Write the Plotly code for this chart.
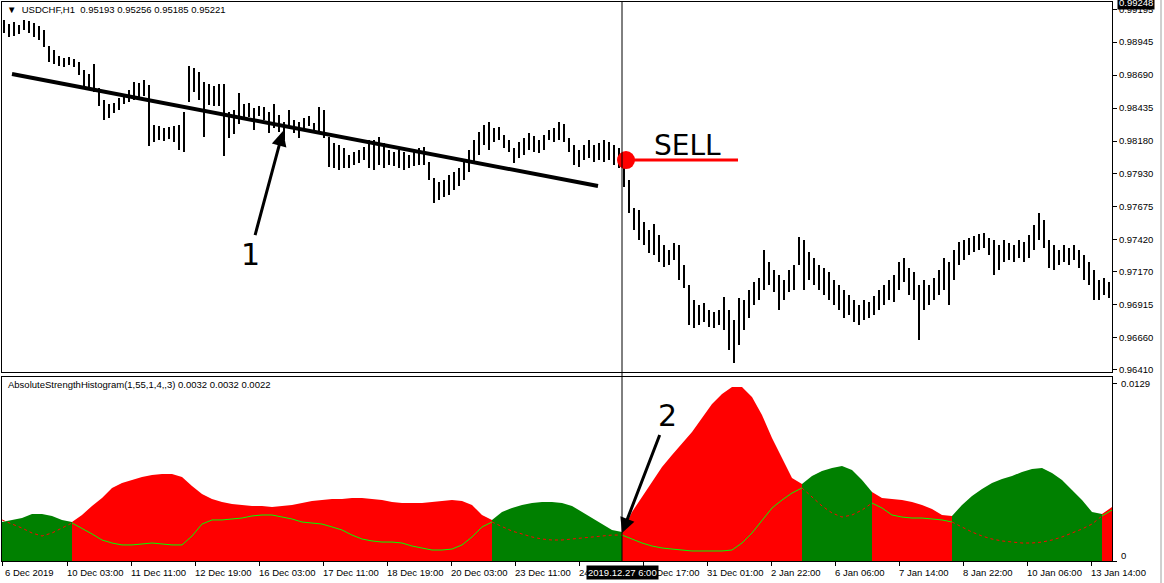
import numpy as np
import plotly.graph_objects as go

# ---------------- price data (aggregated bars) ----------------
highs = [
    0.99115, 0.99084, 0.99100, 0.99077, 0.99115, 0.99108, 0.99092, 0.99069, 0.99038, 0.98914,
    0.98883, 0.98837, 0.98822, 0.98829, 0.98814, 0.98791, 0.98729, 0.98698, 0.98775, 0.98590,
    0.98497, 0.98466, 0.98474, 0.98512, 0.98543, 0.98574, 0.98636, 0.98628, 0.98652, 0.98613,
    0.98304, 0.98296, 0.98281, 0.98288, 0.98296, 0.98304, 0.98404, 0.98760, 0.98744, 0.98713,
    0.98636, 0.98621, 0.98605, 0.98621, 0.98621, 0.98404, 0.98420, 0.98551, 0.98466, 0.98474,
    0.98435, 0.98451, 0.98443, 0.98404, 0.98466, 0.98381, 0.98327, 0.98420, 0.98342, 0.98327,
    0.98358, 0.98373, 0.98319, 0.98443, 0.98420, 0.98211, 0.98165, 0.98149, 0.98126, 0.98072,
    0.98095, 0.98110, 0.98134, 0.98188, 0.98188, 0.98211, 0.98165, 0.98110, 0.98095, 0.98110,
    0.98095, 0.98072, 0.98110, 0.98126, 0.98134, 0.98018, 0.97894, 0.97863, 0.97879, 0.97917,
    0.97940, 0.97971, 0.98033, 0.98110, 0.98188, 0.98250, 0.98304, 0.98327, 0.98281, 0.98288,
    0.98226, 0.98188, 0.98126, 0.98172, 0.98203, 0.98242, 0.98219, 0.98188, 0.98226, 0.98265,
    0.98281, 0.98327, 0.98311, 0.98203, 0.98149, 0.98110, 0.98149, 0.98188, 0.98149, 0.98165,
    0.98188, 0.98172, 0.98149, 0.98126, 0.98072, 0.97879, 0.97662, 0.97647, 0.97554, 0.97492,
    0.97538, 0.97453, 0.97376, 0.97337, 0.97392, 0.97376, 0.97222, 0.97067, 0.96951, 0.96912,
    0.96928, 0.96874, 0.96858, 0.96874, 0.96974, 0.96874, 0.96796, 0.96966, 0.96951, 0.97028,
    0.97090, 0.97121, 0.97337, 0.97245, 0.97183, 0.97144, 0.97106, 0.97183, 0.97222, 0.97438,
    0.97415, 0.97322, 0.97276, 0.97222, 0.97198, 0.97167, 0.97106, 0.97067, 0.97028, 0.96990,
    0.96951, 0.96912, 0.96951, 0.96936, 0.96982, 0.97028, 0.97067, 0.97106, 0.97144, 0.97245,
    0.97276, 0.97198, 0.97167, 0.97067, 0.97106, 0.97067, 0.97121, 0.97183, 0.97276, 0.97245,
    0.97337, 0.97399, 0.97415, 0.97430, 0.97446, 0.97461, 0.97469, 0.97430, 0.97415, 0.97376,
    0.97415, 0.97392, 0.97376, 0.97415, 0.97399, 0.97453, 0.97531, 0.97624, 0.97569, 0.97415,
    0.97376, 0.97337, 0.97376, 0.97353, 0.97376, 0.97337, 0.97299, 0.97245, 0.97183, 0.97106,
    0.97121, 0.97090,
]
lows = [
    0.99015, 0.98984, 0.98992, 0.99007, 0.99038, 0.99015, 0.98984, 0.98961, 0.98907, 0.98791,
    0.98775, 0.98760, 0.98752, 0.98768, 0.98752, 0.98690, 0.98605, 0.98574, 0.98559, 0.98451,
    0.98342, 0.98358, 0.98397, 0.98420, 0.98466, 0.98482, 0.98497, 0.98512, 0.98528, 0.98141,
    0.98172, 0.98188, 0.98180, 0.98196, 0.98172, 0.98110, 0.98095, 0.98482, 0.98559, 0.98497,
    0.98211, 0.98458, 0.98451, 0.98451, 0.98064, 0.98203, 0.98234, 0.98311, 0.98358, 0.98366,
    0.98265, 0.98373, 0.98342, 0.98242, 0.98281, 0.98250, 0.98188, 0.98281, 0.98242, 0.98203,
    0.98281, 0.98296, 0.98257, 0.98242, 0.98203, 0.97979, 0.97971, 0.97956, 0.97971, 0.97971,
    0.97995, 0.98010, 0.98033, 0.97971, 0.97956, 0.97995, 0.97971, 0.97995, 0.97987, 0.97971,
    0.97956, 0.97971, 0.97987, 0.97995, 0.97995, 0.97879, 0.97701, 0.97724, 0.97747, 0.97763,
    0.97801, 0.97832, 0.97879, 0.97940, 0.98018, 0.98072, 0.98149, 0.98110, 0.98172, 0.98188,
    0.98126, 0.98095, 0.98010, 0.98049, 0.98072, 0.98110, 0.98095, 0.98087, 0.98110, 0.98188,
    0.98172, 0.98188, 0.98172, 0.98095, 0.97995, 0.97979, 0.98033, 0.98049, 0.98018, 0.98033,
    0.98018, 0.98033, 0.97995, 0.97971, 0.97824, 0.97624, 0.97492, 0.97415, 0.97376, 0.97314,
    0.97299, 0.97245, 0.97206, 0.97222, 0.97260, 0.97106, 0.97044, 0.96758, 0.96735, 0.96758,
    0.96781, 0.96742, 0.96735, 0.96758, 0.96719, 0.96564, 0.96464, 0.96603, 0.96719, 0.96812,
    0.96912, 0.96951, 0.97028, 0.97067, 0.97013, 0.96874, 0.96951, 0.97013, 0.97028, 0.97222,
    0.97028, 0.97106, 0.97067, 0.97028, 0.96990, 0.96951, 0.96912, 0.96874, 0.96812, 0.96835,
    0.96781, 0.96758, 0.96796, 0.96812, 0.96835, 0.96874, 0.96912, 0.96951, 0.96936, 0.97028,
    0.97090, 0.96990, 0.96951, 0.96642, 0.96874, 0.96912, 0.96951, 0.96990, 0.97028, 0.96912,
    0.97106, 0.97222, 0.97260, 0.97299, 0.97322, 0.97337, 0.97353, 0.97299, 0.97144, 0.97183,
    0.97245, 0.97260, 0.97245, 0.97276, 0.97245, 0.97276, 0.97337, 0.97415, 0.97353, 0.97198,
    0.97183, 0.97222, 0.97245, 0.97222, 0.97260, 0.97198, 0.97106, 0.97067, 0.96951, 0.96951,
    0.96990, 0.96966,
]

# ---------------- Absolute Strength Histogram (sampled every 2 bars) ----------------
osc_hist = [
    0.00284, 0.00299, 0.00313, 0.00342, 0.00342, 0.00328, 0.00299, 0.00284, 0.00335, 0.00401,
    0.00459, 0.00532, 0.00568, 0.00590, 0.00612, 0.00626, 0.00634, 0.00634, 0.00612, 0.00546,
    0.00488, 0.00452, 0.00430, 0.00415, 0.00408, 0.00401, 0.00401, 0.00393, 0.00401, 0.00408,
    0.00422, 0.00437, 0.00444, 0.00452, 0.00452, 0.00459, 0.00459, 0.00452, 0.00444, 0.00430,
    0.00422, 0.00422, 0.00422, 0.00430, 0.00437, 0.00444, 0.00437, 0.00408, 0.00335, 0.00299,
    0.00357, 0.00386, 0.00408, 0.00422, 0.00430, 0.00430, 0.00422, 0.00401, 0.00357, 0.00313,
    0.00269, 0.00226, 0.00211, 0.00357, 0.00466, 0.00575, 0.00685, 0.00772, 0.00852, 0.00940,
    0.01041, 0.01143, 0.01216, 0.01267, 0.01267, 0.01194, 0.01063, 0.00896, 0.00750, 0.00604,
    0.00561, 0.00619, 0.00655, 0.00677, 0.00692, 0.00663, 0.00590, 0.00503, 0.00459, 0.00452,
    0.00444, 0.00430, 0.00408, 0.00379, 0.00335, 0.00328, 0.00408, 0.00473, 0.00524, 0.00568,
    0.00597, 0.00619, 0.00648, 0.00670, 0.00677, 0.00641, 0.00590, 0.00517, 0.00444, 0.00357,
    0.00342, 0.00393,
]
osc_signal = [
    0.00299, 0.00269, 0.00240, 0.00204, 0.00182, 0.00204, 0.00240, 0.00277, 0.00240, 0.00197,
    0.00153, 0.00131, 0.00117, 0.00117, 0.00124, 0.00131, 0.00124, 0.00117, 0.00117, 0.00182,
    0.00269, 0.00299, 0.00299, 0.00306, 0.00313, 0.00328, 0.00335, 0.00335, 0.00320, 0.00306,
    0.00284, 0.00277, 0.00269, 0.00248, 0.00226, 0.00189, 0.00160, 0.00146, 0.00138, 0.00138,
    0.00131, 0.00109, 0.00095, 0.00080, 0.00080, 0.00087, 0.00117, 0.00175, 0.00248, 0.00284,
    0.00248, 0.00218, 0.00197, 0.00175, 0.00160, 0.00153, 0.00153, 0.00160, 0.00168, 0.00175,
    0.00182, 0.00189, 0.00189, 0.00160, 0.00131, 0.00109, 0.00095, 0.00087, 0.00080, 0.00073,
    0.00073, 0.00073, 0.00073, 0.00080, 0.00131, 0.00204, 0.00299, 0.00386, 0.00444, 0.00495,
    0.00532, 0.00466, 0.00401, 0.00350, 0.00320, 0.00335, 0.00371, 0.00422, 0.00386, 0.00335,
    0.00320, 0.00313, 0.00313, 0.00306, 0.00299, 0.00284, 0.00248, 0.00211, 0.00182, 0.00160,
    0.00146, 0.00138, 0.00131, 0.00131, 0.00138, 0.00153, 0.00175, 0.00204, 0.00233, 0.00269,
    0.00328, 0.00371,
]
# colour runs of the histogram: G = bullish (green), R = bearish (red)
osc_runs = [("G", 7), ("R", 42), ("G", 13), ("R", 18), ("G", 7), ("R", 8), ("G", 15), ("R", 2)]

# ---------------- axis labels ----------------
price_ticks = [0.99195, 0.98945, 0.98690, 0.98435, 0.98180, 0.97930,
               0.97675, 0.97420, 0.97170, 0.96915, 0.96660, 0.96410]
time_labels = ["6 Dec 2019", "10 Dec 03:00", "11 Dec 11:00", "12 Dec 19:00", "16 Dec 03:00",
               "17 Dec 11:00", "18 Dec 19:00", "20 Dec 03:00", "23 Dec 11:00", "24 Dec 19:00",
               "30 Dec 17:00", "31 Dec 01:00", "2 Jan 22:00", "6 Jan 06:00", "7 Jan 14:00",
               "8 Jan 22:00", "10 Jan 06:00", "13 Jan 14:00"]
time_label_pos = [-0.5, 12.5, 25.3, 38.1, 50.9, 63.7, 76.5, 89.3, 102.1, 114.9,
                  127.7, 140.5, 153.3, 166.1, 178.9, 191.7, 204.5, 217.3]

# ---------------- annotations data ----------------
trend_start = (1.5, 0.98698)
trend_end = (118.7, 0.97832)
sell_idx, sell_price, sell_line_end = 124.3, 0.98033, 146.7
cursor_idx = 123.5
arrow1_tip = (55.7, 0.98257)
arrow2_tip = (123.5, 0.00204)
last_price = 0.99248

N = len(highs)
idx = np.arange(N)
hi = np.array(highs)
lo = np.array(lows)
osc_x = -0.5 + 2 * np.arange(len(osc_hist))

FONT = "Liberation Sans"
W, H = 1164, 583
L, R, T, B = 2, 52, 2, 22
PW, PH = W - L - R, H - T - B


def px(x):
    return (x - L) / PW


def py(y):
    return (H - B - y) / PH


fig = go.Figure()

# price bars
fig.add_trace(go.Bar(x=idx, y=hi - lo, base=lo, width=0.32,
                     marker=dict(color="black", line=dict(width=0)),
                     xaxis="x", yaxis="y", hoverinfo="skip"))

# histogram areas
start = 0
runs = []
for col, n in osc_runs:
    end = min(start + n, len(osc_hist) - 1)
    runs.append((col, start, end))
    start += n
for col, s, e in runs:
    c = "#008000" if col == "G" else "#ff0000"
    fig.add_trace(go.Scatter(x=osc_x[s:e + 1], y=osc_hist[s:e + 1], mode="lines",
                             fill="tozeroy", line=dict(width=0, color=c), fillcolor=c,
                             xaxis="x2", yaxis="y2", hoverinfo="skip"))
for col, s, e in runs:
    if col == "G":
        ln = dict(color="#ff0000", width=1, dash="dot")
    else:
        ln = dict(color="#00ff00", width=1)
    fig.add_trace(go.Scatter(x=osc_x[s:e + 1], y=osc_signal[s:e + 1], mode="lines",
                             line=ln, xaxis="x2", yaxis="y2", hoverinfo="skip"))

# sell dot
fig.add_trace(go.Scatter(x=[sell_idx], y=[sell_price], mode="markers",
                         marker=dict(size=18, color="#ff0000"), xaxis="x", yaxis="y",
                         hoverinfo="skip"))

top_dom = [(H - B - 372) / PH, 1]
bot_dom = [0, (H - B - 377) / PH]

axis_common = dict(showgrid=False, zeroline=False, showline=True, mirror=True,
                   linecolor="black", linewidth=1)

fig.update_layout(
    width=W, height=H, margin=dict(l=L, r=R, t=T, b=B, autoexpand=False),
    paper_bgcolor="white", plot_bgcolor="white", showlegend=False, bargap=0,
    font=dict(family=FONT, size=9.5, color="black"),
    xaxis=dict(domain=[0, 1], range=[-0.5, N - 0.5], anchor="y", showticklabels=False,
               ticks="", **axis_common),
    xaxis2=dict(domain=[0, 1], range=[-0.5, N - 0.5], anchor="y2", matches="x",
                showticklabels=False, ticks="outside", ticklen=4, tickcolor="black",
                tickvals=time_label_pos, **axis_common),
    yaxis=dict(domain=top_dom, range=[0.96394, 0.99255], side="right", anchor="x",
               tickvals=price_ticks, ticktext=[f"{v:.5f}" for v in price_ticks],
               ticks="outside", ticklen=4, tickcolor="black",
               tickfont=dict(family=FONT, size=9.5, color="black"), **axis_common),
    yaxis2=dict(domain=bot_dom, range=[0, 0.0134], side="right", anchor="x2",
                tickvals=[0.0129, 0], showticklabels=False, ticks="outside", ticklen=4,
                tickcolor="black", **axis_common),
)

shapes = [
    dict(type="line", xref="x", yref="y", x0=trend_start[0], y0=trend_start[1],
         x1=trend_end[0], y1=trend_end[1], line=dict(color="black", width=4)),
    dict(type="line", xref="x", yref="y", x0=sell_idx, y0=sell_price,
         x1=sell_line_end, y1=sell_price, line=dict(color="#ff0000", width=3)),
    dict(type="line", xref="x", yref="paper", x0=cursor_idx, x1=cursor_idx, y0=0, y1=1,
         line=dict(color="black", width=1)),
    dict(type="line", xref="paper", yref="paper", x0=px(1161), x1=px(1161), y0=py(583), y1=py(0),
         line=dict(color="#a0a0a0", width=1)),
]
fig.update_layout(shapes=shapes)

ann = []
ann.append(dict(xref="paper", yref="paper", x=px(5), y=py(10), xanchor="left", yanchor="middle",
                text="\u25bc  USDCHF,H1  0.95193 0.95256 0.95185 0.95221", showarrow=False,
                font=dict(family=FONT, size=9.5, color="black")))
ann.append(dict(xref="paper", yref="paper", x=px(6), y=py(385), xanchor="left", yanchor="middle",
                text="AbsoluteStrengthHistogram(1,55,1,4,,3) 0.0032 0.0032 0.0022", showarrow=False,
                font=dict(family=FONT, size=9.5, color="black")))
ann.append(dict(xref="paper", yref="paper", x=px(1119), y=py(383), xanchor="left", yanchor="middle",
                text="0.0129", showarrow=False, font=dict(family=FONT, size=9.5, color="black")))
ann.append(dict(xref="paper", yref="paper", x=px(1119), y=py(555), xanchor="left", yanchor="middle",
                text="0", showarrow=False, font=dict(family=FONT, size=9.5, color="black")))
ann.append(dict(xref="paper", yref="y", x=px(1117), y=last_price, xanchor="left", yanchor="middle",
                text="0.99248", showarrow=False, bgcolor="black", borderpad=1,
                font=dict(family=FONT, size=9.5, color="white")))
for i, (pos, lab) in enumerate(zip(time_label_pos, time_labels)):
    ann.append(dict(xref="x2", yref="paper", x=pos, y=py(572), xanchor="left", yanchor="middle",
                    xshift=1 if i == 0 else -2, text=lab, showarrow=False,
                    font=dict(family=FONT, size=9.5, color="black")))
ann.append(dict(xref="x2", yref="paper", x=cursor_idx, y=py(572), xanchor="center", yanchor="middle",
                text="2019.12.27 6:00", showarrow=False, bgcolor="black", borderpad=1,
                font=dict(family=FONT, size=9.5, color="white")))
ann.append(dict(xref="x", yref="y", x=sell_idx + 12.2, y=0.98149, xanchor="center", yanchor="middle",
                text="SELL", showarrow=False, font=dict(family="DejaVu Sans", size=28, color="black")))
ann.append(dict(xref="x", yref="y", x=arrow1_tip[0], y=arrow1_tip[1], text="1", showarrow=True,
                ax=-33, ay=123, arrowhead=2, arrowsize=1, arrowwidth=3, arrowcolor="black",
                standoff=0, font=dict(family="DejaVu Sans", size=30, color="black")))
ann.append(dict(xref="x2", yref="y2", x=arrow2_tip[0], y=arrow2_tip[1], text="2", showarrow=True,
                ax=45, ay=-117, arrowhead=2, arrowsize=1, arrowwidth=3, arrowcolor="black",
                standoff=0, font=dict(family="DejaVu Sans", size=30, color="black")))
fig.update_layout(annotations=ann)

fig.write_html("out.html", config={"displayModeBar": False},
               post_script="document.body.style.margin='0';document.body.style.padding='0';")
